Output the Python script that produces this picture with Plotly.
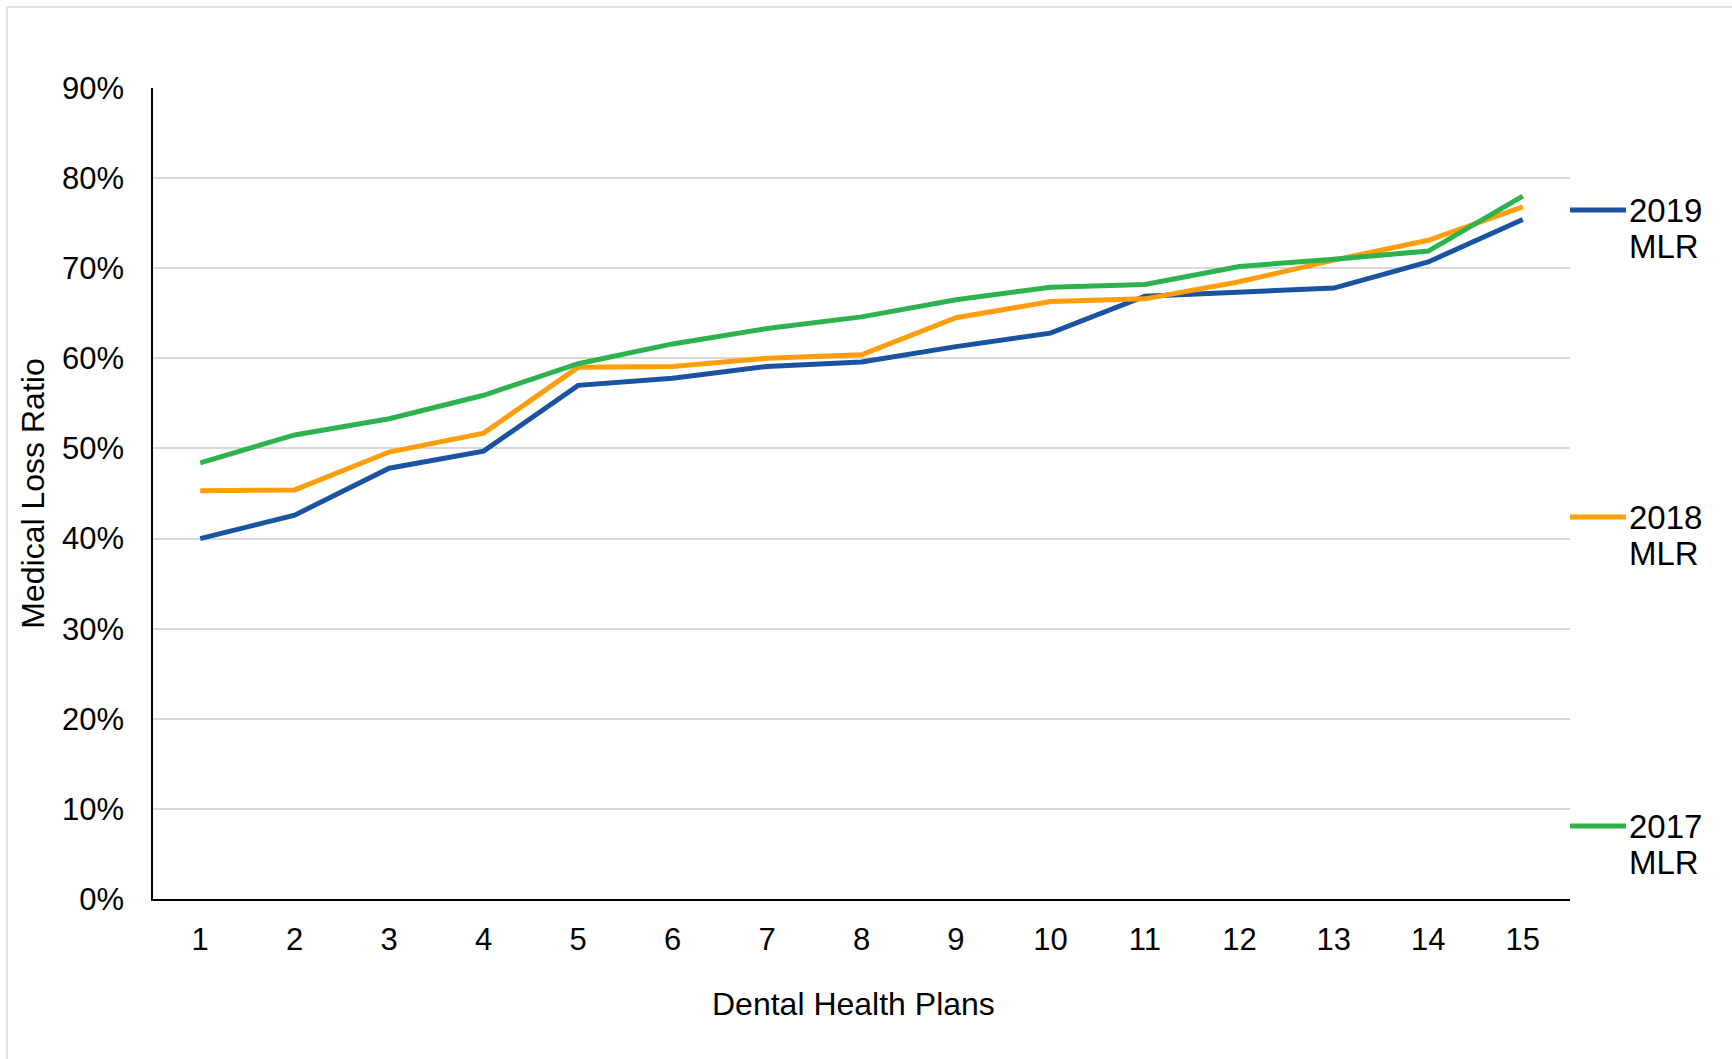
import plotly.graph_objects as go

plans = ["1", "2", "3", "4", "5", "6", "7", "8", "9", "10", "11", "12", "13", "14", "15"]
mlr_2019 = [40.0, 42.6, 47.8, 49.7, 57.0, 57.8, 59.1, 59.6, 61.3, 62.8, 66.9, 67.4, 67.8, 70.7, 75.4]
mlr_2018 = [45.3, 45.4, 49.6, 51.7, 59.0, 59.1, 60.0, 60.4, 64.5, 66.3, 66.6, 68.5, 70.9, 73.1, 76.8]
mlr_2017 = [48.4, 51.5, 53.3, 55.9, 59.4, 61.6, 63.3, 64.6, 66.5, 67.9, 68.2, 70.2, 71.0, 71.9, 78.0]
series_names = ["2019 MLR", "2018 MLR", "2017 MLR"]
colors = ["#1A54A0", "#FF9D0A", "#2EB24E"]
y_ticks = [0, 10, 20, 30, 40, 50, 60, 70, 80, 90]
y_tick_labels = ["0%", "10%", "20%", "30%", "40%", "50%", "60%", "70%", "80%", "90%"]
x_title = "Dental Health Plans"
y_title = "Medical Loss Ratio"

FONT = "Liberation Sans, Arial, sans-serif"

fig = go.Figure()
for vals, name, col in zip([mlr_2019, mlr_2018, mlr_2017], series_names, colors):
    fig.add_trace(go.Scatter(x=plans, y=vals, mode="lines", name=name,
                             line=dict(color=col, width=5),
                             showlegend=False))

W, H = 1732, 1059
L, R, T, B = 153, 162, 88, 160
pw, ph = W - L - R, H - T - B

def px_x(p):
    return (p - L) / pw

def px_y(p):
    return (H - B - p) / ph

legend_y_px = [210, 517, 826]
shapes = []
annotations = []
for ypx, name, col in zip(legend_y_px, series_names, colors):
    shapes.append(dict(type="line", xref="paper", yref="paper",
                       x0=px_x(1570), x1=px_x(1626), y0=px_y(ypx), y1=px_y(ypx),
                       line=dict(color=col, width=5)))
    for k, word in enumerate(name.split(" ")):
        annotations.append(dict(xref="paper", yref="paper", x=px_x(1627),
                                y=px_y(ypx + 36 * k), xanchor="left", yanchor="middle",
                                text=word, showarrow=False, align="left",
                                font=dict(family=FONT, size=33, color="#000000")))

# x-axis title (slightly left of the plot centre, as in the reference)
annotations.append(dict(xref="paper", yref="paper", x=px_x(853), y=px_y(1004),
                        xanchor="center", yanchor="middle", text=x_title, showarrow=False,
                        font=dict(family=FONT, size=32, color="#000000")))

shapes.append(dict(type="rect", xref="paper", yref="paper", layer="below",
                   x0=px_x(7), x1=px_x(1800), y0=px_y(1100), y1=px_y(7),
                   line=dict(color="#D9D9D9", width=1.5), fillcolor="rgba(0,0,0,0)"))

fig.update_layout(
    width=W, height=H,
    margin=dict(l=L, r=R, t=T, b=B, autoexpand=False),
    paper_bgcolor="white", plot_bgcolor="white",
    font=dict(family=FONT, size=32, color="#000000"),
    shapes=shapes, annotations=annotations,
    xaxis=dict(type="category", range=[-0.5, 14.5], showline=True, linecolor="#000000",
               linewidth=1.5, showgrid=False, ticks="", ticklabelstandoff=12,
               tickfont=dict(family=FONT, size=31), zeroline=False),
    yaxis=dict(range=[0, 90], tickmode="array", tickvals=y_ticks, ticktext=y_tick_labels,
               showline=True, linecolor="#000000", linewidth=1.5, showgrid=True,
               gridcolor="#D9D9D9", gridwidth=1.5, ticks="", ticklabelstandoff=21,
               zeroline=False,
               title=dict(text=y_title, standoff=8,
                          font=dict(family=FONT, size=32)),
               tickfont=dict(family=FONT, size=31)),
)

fig.write_html("out.html", config={"displayModeBar": False},
               post_script="document.body.style.margin='0';")
